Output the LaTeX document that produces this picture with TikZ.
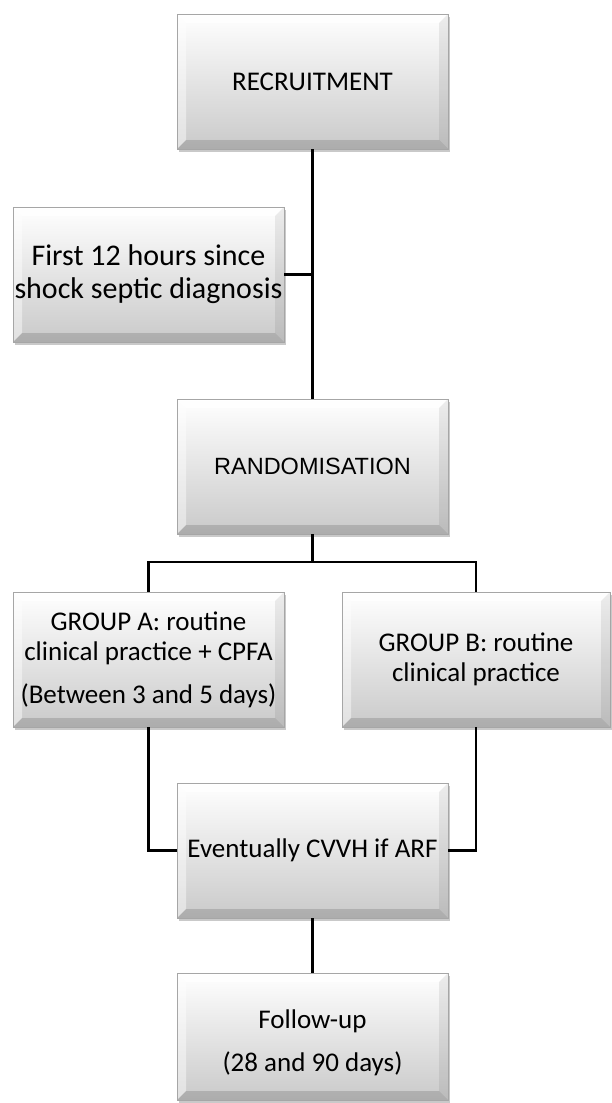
\documentclass[tikz,border=0pt]{standalone}
\usepackage{fontspec}
\setmainfont{Carlito}
\newfontfamily\arialfont{Liberation Sans}
\usetikzlibrary{shadows}
\tikzset{
  bev/.style={draw=black!35, line width=0.8pt,
    top color=white, bottom color=black!21,
    minimum width=271pt, minimum height=135pt, inner sep=0pt,
    align=center, font=\fontsize{27}{30}\selectfont,
    drop shadow={shadow xshift=2pt, shadow yshift=-3pt, opacity=0.3, fill=black!70},
    path picture={
      \fill[white, opacity=0.75]
        (path picture bounding box.north west) -- (path picture bounding box.north east)
        -- ([xshift=-9pt,yshift=-9pt]path picture bounding box.north east)
        -- ([xshift=9pt,yshift=-9pt]path picture bounding box.north west) -- cycle;
      \fill[white, opacity=0.45]
        (path picture bounding box.north west)
        -- ([xshift=9pt,yshift=-9pt]path picture bounding box.north west)
        -- ([xshift=9pt,yshift=9pt]path picture bounding box.south west)
        -- (path picture bounding box.south west) -- cycle;
      \fill[black, opacity=0.07]
        (path picture bounding box.north east)
        -- ([xshift=-9pt,yshift=-9pt]path picture bounding box.north east)
        -- ([xshift=-9pt,yshift=9pt]path picture bounding box.south east)
        -- (path picture bounding box.south east) -- cycle;
      \fill[black, opacity=0.14]
        (path picture bounding box.south west)
        -- ([xshift=9pt,yshift=9pt]path picture bounding box.south west)
        -- ([xshift=-9pt,yshift=9pt]path picture bounding box.south east)
        -- (path picture bounding box.south east) -- cycle;
    }},
  txt/.style={align=center, inner sep=0pt, font=\fontsize{27}{30}\selectfont},
  conn/.style={draw=black, line width=2.8pt}
}
\begin{document}
\begin{tikzpicture}[x=1pt,y=-1pt]
\useasboundingbox (0,0) rectangle (611,1103);
\node[bev] (rec) at (312.5,81.5) {RECRUITMENT};
\node[bev, font=\fontsize{30}{33}\selectfont] (first) at (148.5,274.5) {First 12 hours since\\shock septic diagnosis};
\node[bev, font=\arialfont\fontsize{23.5}{27}\selectfont] (rand) at (312.5,466.5) {RANDOMISATION};
\node[bev] (grpA) at (148.5,659.5) {GROUP A: routine\\clinical practice + CPFA\\[13pt](Between 3 and 5 days)};
\node[bev, minimum width=268pt] (grpB) at (476,659.5) {GROUP B: routine\\clinical practice};
\node[bev] (cvvh) at (312.5,850.5) {Eventually CVVH if ARF};
\node[bev, minimum height=127pt] (fol) at (312.5,1036.5) {};
\node[txt] (folt) at ([yshift=-6pt]fol.center) {Follow-up\\[13pt](28 and 90 days)};
\coordinate (br) at (312.5,562);
\draw[conn] (rec.south) -- (rand.north);
\draw[conn] (first.east) -- (first.east -| rec.south);
\draw[conn] (rand.south) -- (br);
\draw[conn] (grpA.north) |- (br) -| (grpB.north);
\draw[conn] (grpA.south) |- (cvvh.west);
\draw[conn] (grpB.south) |- (cvvh.east);
\draw[conn] (cvvh.south) -- (fol.north);
\end{tikzpicture}
\end{document}
